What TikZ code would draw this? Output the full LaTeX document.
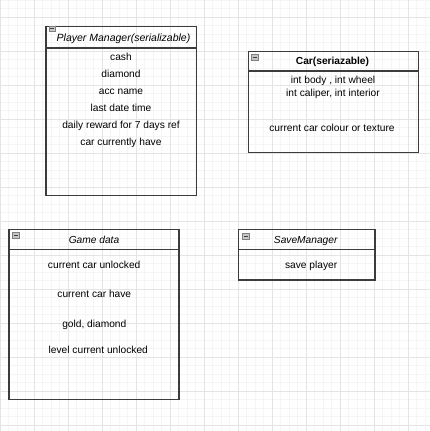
\documentclass[tikz,border=0pt]{standalone}
\usepackage{fontspec}
\setmainfont{Liberation Sans}
\definecolor{minorgrid}{HTML}{F5F5F5}
\definecolor{majorgrid}{HTML}{E4E4E4}
\definecolor{boxline}{HTML}{3C3C3C}
\tikzset{
  classbox/.style={draw=boxline, line width=1.1pt},
  foldicon/.style={draw=gray, fill=gray!45, line width=0.4pt},
  foldbar/.style={draw=black!75, line width=1.3pt},
  field/.style={anchor=base, inner sep=0pt},
}

\begin{document}
\begin{tikzpicture}[x=1pt, y=-1pt, font=\fontsize{10.2}{12}\selectfont]
\fill[white] (0,0) rectangle (430,431);
\useasboundingbox (0,0) rectangle (430,431);
% grid
\foreach \i in {0,...,50}
  \draw[minorgrid, line width=0.8pt] (8.5*\i,0) -- (8.5*\i,431) (0,8.5*\i) -- (430,8.5*\i);
\foreach \i in {0,...,12}
  \draw[majorgrid, line width=0.8pt] (34*\i,0) -- (34*\i,431) (0,17+34*\i) -- (430,17+34*\i);

% Player Manager
\draw[classbox] (46,26.5) rectangle (196.5,195.5);
\draw[classbox] (46,48) -- (196.5,48);
\node[field] (pmTitle) at (123.5,41.5) {\fontsize{10.5}{12}\selectfont\itshape Player Manager(serializable)};
\node[field] (pmCash) at (121,60.5) {cash};
\node[field] (pmDiamond) at (121,77) {diamond};
\node[field] (pmAcc) at (121,94) {acc name};
\node[field] (pmDate) at (121,111.5) {last date time};
\node[field] (pmDaily) at (121,128.5) {daily reward for 7 days ref};
\node[field] (pmCar) at (121,145) {car currently have};

% Car
\draw[classbox] (248.3,51.7) rectangle (418.5,152.7);
\draw[classbox] (248.3,71) -- (418.5,71);
\node[field] (carTitle) at (332.5,64.8) {\bfseries Car(seriazable)};
\node[field] (carBody) at (333,83.5) {int body , int wheel};
\node[field] (carCaliper) at (333,96.3) {int caliper, int interior};
\node[field] (carColour) at (332,131.8) {current car colour or texture};

% Game data
\draw[classbox] (9,229.7) rectangle (179,399.5);
\draw[classbox] (9,249.3) -- (179,249.3);
\node[field] (gdTitle) at (94,243.5) {\itshape Game data};
\node[field] (gdUnlocked) at (94.2,268.5) {current car unlocked};
\node[field] (gdHave) at (94.3,297.5) {current car have};
\node[field] (gdGold) at (94.3,327) {gold, diamond};
\node[field] (gdLevel) at (98.3,353) {level current unlocked};

% SaveManager
\draw[classbox] (238.3,229.7) rectangle (375,280);
\draw[classbox] (238.3,249.3) -- (375,249.3);
\node[field] (smTitle) at (305.7,243.8) {\itshape SaveManager};
\node[field] (smSave) at (311.2,268.5) {save player};

% fold icons
\foreach \x/\y in {49/26, 251.5/54.5, 12.5/232.5, 242.5/233.5} {
  \draw[foldicon] (\x,\y) rectangle (\x+6.5,\y+5.5);
  \draw[foldbar] (\x+1.3,\y+2.8) -- (\x+5.2,\y+2.8);
}
\end{tikzpicture}
\end{document}
